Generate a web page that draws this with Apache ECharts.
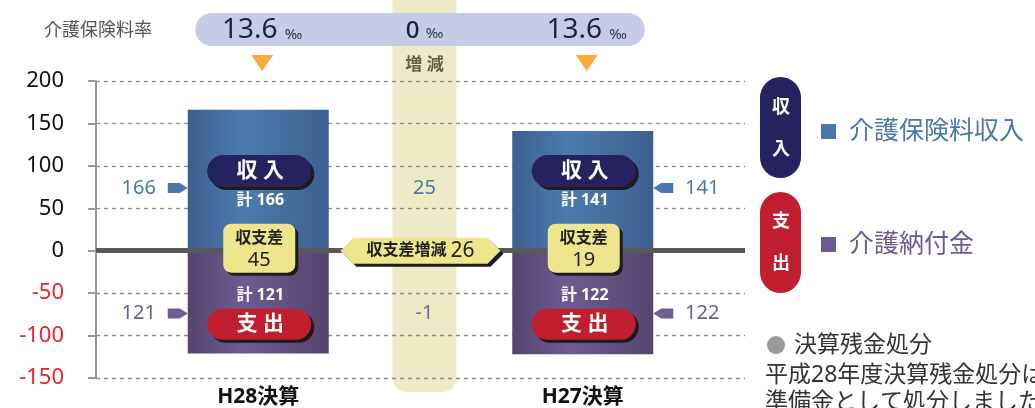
<!DOCTYPE html>
<html>
<head>
<meta charset="utf-8">
<script src="https://cdn.jsdelivr.net/npm/echarts@6/dist/echarts.min.js"></script>
<style>
  html, body { margin: 0; padding: 0; background: #fff; }
  #chart { width: 1035px; height: 408px; }
</style>
</head>
<body>
<div id="chart"></div>
<script>
// 決算比較（H28 / H27）
const years = ['H28決算', 'H27決算'];
const incomeValues = [166, 141];   // 介護保険料収入
const paymentValues = [121, 122];  // 介護納付金
const balanceValues = [45, 19];    // 収支差
const rateValues = [13.6, 13.6];   // 介護保険料率 ‰
const changeLabel = '増減';
const rateChange = 0;
const incomeChange = 25;
const paymentChange = -1;
const balanceChange = 26;
const yRange = [-150, 200];
const yStep = 50;
const noteLines = ['決算残金処分', '平成28年度決算残金処分は', '準備金として処分しました'];

const FONT = '"Noto Sans", "Noto Sans CJK JP", sans-serif';
const BLUE = '#4a78ad';
const PURPLE = '#6e5a92';
const NAVY = '#26215f';
const RED = '#c11f2f';
const YELLOW = '#ede68c';

const axisCategories = ['', years[0], changeLabel, years[1], ''];
const pick = (arr, sign) => axisCategories.map(c => {
  const i = years.indexOf(c);
  return i < 0 ? '-' : sign * arr[i];
});

const grad = (edge, mid) => new echarts.graphic.LinearGradient(0, 0, 1, 0, [
  { offset: 0, color: edge }, { offset: 0.4, color: mid }, { offset: 1, color: edge }
]);

const chart = echarts.init(document.getElementById('chart'));

chart.setOption({
  animation: false,
  textStyle: { fontFamily: FONT },
  grid: { left: 96, right: 290, top: 81, bottom: 30 },
  legend: {
    orient: 'vertical',
    left: 816,
    top: 114,
    itemWidth: 15,
    itemHeight: 15,
    itemGap: 88,
    icon: 'rect',
    selectedMode: false,
    textStyle: { fontSize: 25, padding: [0, 0, 0, 8] },
    data: [
      { name: '介護保険料収入', itemStyle: { color: BLUE }, textStyle: { color: BLUE, fontSize: 25 } },
      { name: '介護納付金', itemStyle: { color: PURPLE }, textStyle: { color: PURPLE, fontSize: 25 } }
    ]
  },
  xAxis: {
    type: 'category',
    data: axisCategories,
    boundaryGap: false,
    axisLine: { show: false },
    axisTick: { show: false },
    axisLabel: {
      interval: 0,
      margin: 9,
      fontSize: 21,
      fontWeight: 'bold',
      color: '#111',
      formatter: v => (years.includes(v) ? v : '')
    }
  },
  yAxis: {
    type: 'value',
    min: yRange[0],
    max: yRange[1],
    interval: yStep,
    axisLine: { show: true, lineStyle: { color: '#999', width: 2 } },
    axisTick: { show: true, length: 8, lineStyle: { color: '#999', width: 2 } },
    axisLabel: {
      margin: 32,
      fontSize: 22,
      color: v => (v < 0 ? '#e8262c' : '#111')
    },
    splitLine: { lineStyle: { color: '#8c8c8c', type: [4, 4], width: 1.3 } }
  },
  series: [
    {
      name: '介護保険料収入', type: 'bar', stack: 'total', barWidth: 141, z: 3,
      data: pick(incomeValues, 1),
      itemStyle: { color: grad('#3c5f8e', '#4b7caf') }
    },
    {
      name: '介護納付金', type: 'bar', stack: 'total', barWidth: 141, z: 3,
      data: pick(paymentValues, -1),
      itemStyle: { color: grad('#55446f', '#6e5b8f') }
    },
    {
      type: 'line', z: 1, data: axisCategories.map(() => '-'),
      markLine: {
        silent: true, symbol: ['none', 'none'], label: { show: false },
        lineStyle: { color: '#595959', width: 5, type: 'solid' },
        data: [{ yAxis: 0 }]
      }
    }
  ]
});

// ---- annotations, positioned through the axes ----
const xOf = i => chart.convertToPixel({ xAxisIndex: 0 }, i);
const yOf = v => chart.convertToPixel({ yAxisIndex: 0 }, v);
const barHalf = 70.5;
const xm = xOf(2);
const topShift = 4;

const text = (x, y, str, size, color, weight, extra) => ({
  type: 'text', x, y, z: 60,
  style: Object.assign({
    text: str, fill: color, fontSize: size, fontWeight: weight || 'normal',
    fontFamily: FONT, align: 'center', verticalAlign: 'middle'
  }, extra || {})
});
const shadowRect = (x, y, w, h, r, fill) => [
  { type: 'rect', z: 50, x: 3, y: 3, shape: { x, y, width: w, height: h, r }, style: { fill: '#1c1c1c' } },
  { type: 'rect', z: 51, shape: { x, y, width: w, height: h, r }, style: { fill } }
];

const g = [];

// 増減 band
g.push({ type: 'rect', z: -10, shape: { x: xm + topShift - 32, y: -12, width: 64, height: 404, r: 14 }, style: { fill: '#ecebc6' } });

// rate pill row
const xs = [xOf(1), xOf(3)];
g.push({ type: 'rect', z: 5, shape: { x: xs[0] - 63, y: 13, width: xs[1] - xs[0] + 125, height: 33, r: 16.5 }, style: { fill: '#c7cce6' } });
g.push(text(152, 31, '介護保険料率', 18, '#555', 'normal', { align: 'right' }));
const rateRich = {
  v: { fontSize: 28, fill: '#17243f', fontFamily: FONT, verticalAlign: 'bottom' },
  m: { fontSize: 24, fontWeight: 500, fill: '#17243f', fontFamily: FONT, verticalAlign: 'bottom' },
  u: { fontSize: 15, fill: '#2c3550', fontFamily: FONT, padding: [0, 0, 2, 0], verticalAlign: 'bottom' }
};
years.forEach((y, i) => {
  g.push(text(xs[i] + topShift, 30, `{v|${rateValues[i]}} {u|‰}`, 28, '#17243f', 'normal', { rich: rateRich }));
  g.push({ type: 'polygon', z: 6, shape: { points: [[xs[i] + topShift - 11, 55], [xs[i] + topShift + 11, 55], [xs[i] + topShift, 71]] }, style: { fill: '#f8ab3b' } });
});
g.push(text(xm + topShift, 31, `{m|${rateChange}} {u|‰}`, 24, '#17243f', 'normal', { rich: rateRich }));
g.push(text(xm + topShift, 65, changeLabel.split('').join(' '), 17, '#6b5b47', 'bold'));

// inside bars
years.forEach((y, i) => {
  const cx = xs[i];
  const pIn = yOf(94), tIn = yOf(59), tOut = yOf(-53), pOut = yOf(-86);
  g.push(...shadowRect(cx - 51, pIn - 16, 104, 32, 16, NAVY));
  g.push(text(cx + 2, pIn, '収 入', 21, '#fff', 'bold'));
  g.push(text(cx + 2, tIn, '計 ' + incomeValues[i], 16, '#fff', 'bold'));
  g.push(...shadowRect(cx - 35, yOf(0) - 27, 72, 49, 8, YELLOW));
  g.push(text(cx + 1, yOf(0) - 12, '収支差', 16, '#222', 'bold'));
  g.push(text(cx + 1, yOf(0) + 10, String(balanceValues[i]), 20, '#222'));
  g.push(text(cx + 2, tOut, '計 ' + paymentValues[i], 16, '#fff', 'bold'));
  g.push(...shadowRect(cx - 51, pOut - 15, 104, 31, 15.5, RED));
  g.push(text(cx + 2, pOut, '支 出', 21, '#fff', 'bold'));

  // side pointers: left of first bar, right of second bar
  const dir = i === 0 ? -1 : 1;
  const edge = cx + dir * barHalf;
  [[74, incomeValues[i], BLUE], [-74, paymentValues[i], '#6f5d95']].forEach(([v, val, col]) => {
    const py = yOf(v);
    const tip = edge, back = edge + dir * 20, neck = edge + dir * 8;
    g.push({ type: 'polygon', z: 20, shape: { points: [[tip, py], [neck, py - 5], [back, py - 5], [back, py + 5], [neck, py + 5]] }, style: { fill: col } });
    g.push(text(edge + dir * 49, py, String(val), 20, col));
  });
});

// middle column changes
g.push(text(xm + topShift, yOf(74), String(incomeChange), 20, '#5079a8'));
g.push(text(xm + topShift, yOf(-74), String(paymentChange), 20, '#7a6b9c'));
const hy = yOf(0);
const hex = [[xm - 80, hy], [xm - 67, hy - 13], [xm + 67, hy - 13], [xm + 80, hy], [xm + 67, hy + 13], [xm - 67, hy + 13]];
g.push({ type: 'polygon', z: 50, x: 3, y: 3, shape: { points: hex }, style: { fill: '#1c1c1c' } });
g.push({ type: 'polygon', z: 51, shape: { points: hex }, style: { fill: YELLOW } });
g.push(text(xm, hy, `{a|収支差増減} {b|${balanceChange}}`, 16, '#222', 'normal', {
  rich: {
    a: { fontSize: 16, fontWeight: 'bold', fill: '#222', fontFamily: FONT },
    b: { fontSize: 21, fill: '#222', fontFamily: FONT }
  }
}));

// right side tags
g.push({ type: 'rect', z: 10, shape: { x: 760, y: 77, width: 41, height: 101, r: 20.5 }, style: { fill: NAVY } });
g.push(text(781, 108, '収', 18, '#fff', 'bold'), text(781, 150, '入', 18, '#fff', 'bold'));
g.push({ type: 'rect', z: 10, shape: { x: 760, y: 192, width: 41, height: 101, r: 20.5 }, style: { fill: RED } });
g.push(text(781, 222, '支', 18, '#fff', 'bold'), text(781, 264, '出', 18, '#fff', 'bold'));

// note
g.push({ type: 'circle', z: 10, shape: { cx: 776, cy: 345, r: 9 }, style: { fill: '#9a9a9a' } });
g.push(text(794, 345, noteLines[0], 23, '#333', 'normal', { align: 'left' }));
g.push(text(765, 375, noteLines[1], 23, '#333', 'normal', { align: 'left' }));
g.push(text(765, 402, noteLines[2], 23, '#333', 'normal', { align: 'left' }));

chart.setOption({ graphic: { elements: g } });
</script>
</body>
</html>
